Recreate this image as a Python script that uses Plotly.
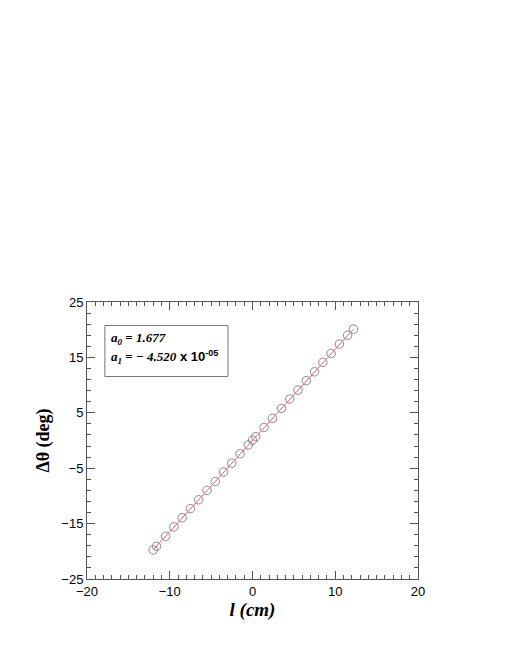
import plotly.graph_objects as go

# measured points (l in cm, delta theta in deg)
l_cm = [-12.0, -11.6, -10.5, -9.5, -8.5, -7.5, -6.5, -5.5, -4.5, -3.5, -2.5, -1.5,
        -0.5, 0.0, 0.4, 1.4, 2.4, 3.5, 4.5, 5.5, 6.5, 7.5, 8.5, 9.5, 10.5, 11.5, 12.2]
dtheta = [-19.75, -19.1, -17.3, -15.6, -13.95, -12.3, -10.7, -9.0, -7.4, -5.7, -4.1, -2.4,
          -0.8, 0.05, 0.7, 2.35, 4.0, 5.8, 7.5, 9.1, 10.8, 12.4, 14.1, 15.7, 17.4, 19.0, 20.1]

# fitted straight line end points
fit_x = [-12.0, 12.2]
fit_y = [-19.75, 20.1]

x_ticks = [-20, -10, 0, 10, 20]
y_ticks = [-25, -15, -5, 5, 15, 25]

fig = go.Figure()

fig.add_trace(go.Scatter(
    x=fit_x, y=fit_y,
    mode='lines',
    line=dict(color='#ff5a5a', width=1),
    showlegend=False
))

fig.add_trace(go.Scatter(
    x=l_cm, y=dtheta,
    mode='markers',
    marker=dict(symbol='circle-open', size=8.5, color='#888888', line=dict(width=1)),
    showlegend=False
))

axis_common = dict(
    showgrid=False, zeroline=False,
    showline=True, linecolor='#555555', linewidth=1, mirror='allticks',
    ticks='inside', ticklen=8, tickcolor='#555555', tickwidth=1,
    tickfont=dict(family='Liberation Sans, Arial', size=13, color='black'),
)

fig.update_xaxes(
    range=[-20, 20], tickvals=x_ticks,
    minor=dict(dtick=1, ticks='inside', ticklen=4, tickcolor='#555555'),
    title=dict(text='<b><i>l (cm)</i></b>',
               font=dict(family='Liberation Serif, Times New Roman', size=19, color='black'),
               standoff=0),
    **axis_common
)

fig.update_yaxes(
    range=[-25, 25], tickvals=y_ticks,
    minor=dict(tick0=5, dtick=2, ticks='inside', ticklen=4, tickcolor='#555555'),
    title=dict(text='<b>Δθ (deg)</b>',
               font=dict(family='Liberation Serif, Times New Roman', size=18, color='black'),
               standoff=7),
    **axis_common
)

# parameter box
fig.add_shape(type='rect', xref='paper', yref='paper',
              x0=0.054, x1=0.426, y0=0.731, y1=0.915,
              line=dict(color='#777777', width=1), fillcolor='white')

fig.add_annotation(
    xref='paper', yref='paper', x=0.066, y=0.868, xanchor='left', yanchor='middle',
    text='<b><i>a<sub>0</sub> = 1.677</i></b>', showarrow=False,
    font=dict(family='Liberation Serif, Times New Roman', size=13, color='black')
)
fig.add_annotation(
    xref='paper', yref='paper', x=0.066, y=0.800, xanchor='left', yanchor='middle',
    text='<b><i>a<sub>1</sub> = − 4.520</i></b>'
         '<span style="font-family:Liberation Sans, Arial"><b> x 10<sup>-05</sup></b></span>',
    showarrow=False,
    font=dict(family='Liberation Serif, Times New Roman', size=13, color='black')
)

fig.update_layout(
    width=505, height=654,
    margin=dict(l=79, r=95, t=294, b=83),
    plot_bgcolor='white', paper_bgcolor='white',
)

fig.write_html("out.html")
